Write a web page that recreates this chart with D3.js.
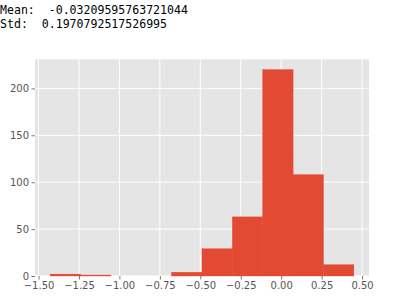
<!DOCTYPE html>
<html>
<head>
<meta charset="utf-8">
<script src="https://cdn.jsdelivr.net/npm/d3@7"></script>
<style>
  html, body { margin: 0; padding: 0; background: #fff; }
  svg { display: block; }
  text.stat { white-space: pre; }
</style>
</head>
<body>
<svg id="chart" width="404" height="305"></svg>
<script>
const statLines = ["Mean:  -0.03209595763721044", "Std:  0.1970792517526995"];
const binEdges = [-1.428, -1.2403, -1.0526, -0.8649, -0.6772, -0.4895, -0.3018, -0.1141, 0.0736, 0.2613, 0.449];
const counts = [2, 1, 0, 0, 4, 29, 63, 220, 108, 12];
const xTicks = [-1.5, -1.25, -1.0, -0.75, -0.5, -0.25, 0.0, 0.25, 0.5];
const yTicks = [0, 50, 100, 150, 200];

const svg = d3.select("#chart");

// header text (monospace)
svg.selectAll("text.stat").data(statLines).enter().append("text")
  .attr("class", "stat")
  .attr("xml:space", "preserve")
  .attr("x", 0)
  .attr("y", (d, i) => 13.5 + i * 14.7)
  .attr("font-family", "DejaVu Sans Mono, monospace")
  .attr("font-size", 13)
  .attr("fill", "#000")
  .attr("textLength", d => d.length * 6.96)
  .attr("lengthAdjust", "spacingAndGlyphs")
  .text(d => d);

const L = 35, R = 369, T = 59.3, B = 276;
const xMin = binEdges[0], xMax = binEdges[binEdges.length - 1];
const pad = (xMax - xMin) * 0.05;
const x = d3.scaleLinear().domain([xMin - pad, xMax + pad]).range([L, R]);
const y = d3.scaleLinear().domain([0, d3.max(counts) * 1.05]).range([B, T]);

svg.append("rect").attr("x", L).attr("y", T).attr("width", R - L).attr("height", B - T).attr("fill", "#E5E5E5");

const g = svg.append("g");
g.selectAll("line.gx").data(xTicks).enter().append("line")
  .attr("x1", d => x(d)).attr("x2", d => x(d)).attr("y1", T).attr("y2", B)
  .attr("stroke", "#fff").attr("stroke-width", 1);
g.selectAll("line.gy").data(yTicks).enter().append("line")
  .attr("y1", d => y(d)).attr("y2", d => y(d)).attr("x1", L).attr("x2", R)
  .attr("stroke", "#fff").attr("stroke-width", 1);

const bins = counts.map((c, i) => ({x0: binEdges[i], x1: binEdges[i + 1], c}));
svg.selectAll("rect.bar").data(bins.filter(d => d.c > 0)).enter().append("rect")
  .attr("class", "bar")
  .attr("x", d => x(d.x0))
  .attr("width", d => x(d.x1) - x(d.x0))
  .attr("y", d => y(d.c))
  .attr("height", d => B - y(d.c))
  .attr("fill", "#E24A33")
  .attr("stroke", "#E24A33")
  .attr("stroke-width", 0.4);

const fmtX = d => d3.format(".2f")(d).replace("-", "\u2212");
const xAxis = d3.axisBottom(x).tickValues(xTicks).tickFormat(fmtX).tickSize(3.5).tickPadding(2.5);
const xa = svg.append("g").attr("transform", `translate(0,${B})`).call(xAxis);
const yAxis = d3.axisLeft(y).tickValues(yTicks).tickFormat(d3.format("d")).tickSize(3.5).tickPadding(2.5);
const ya = svg.append("g").attr("transform", `translate(${L},0)`).call(yAxis);
[xa, ya].forEach(a => {
  a.select(".domain").remove();
  a.selectAll(".tick line").attr("stroke", "#555").attr("stroke-width", 0.8);
  a.selectAll(".tick text").attr("fill", "#555").attr("font-size", 10).attr("font-family", "DejaVu Sans, sans-serif");
});
</script>
</body>
</html>
